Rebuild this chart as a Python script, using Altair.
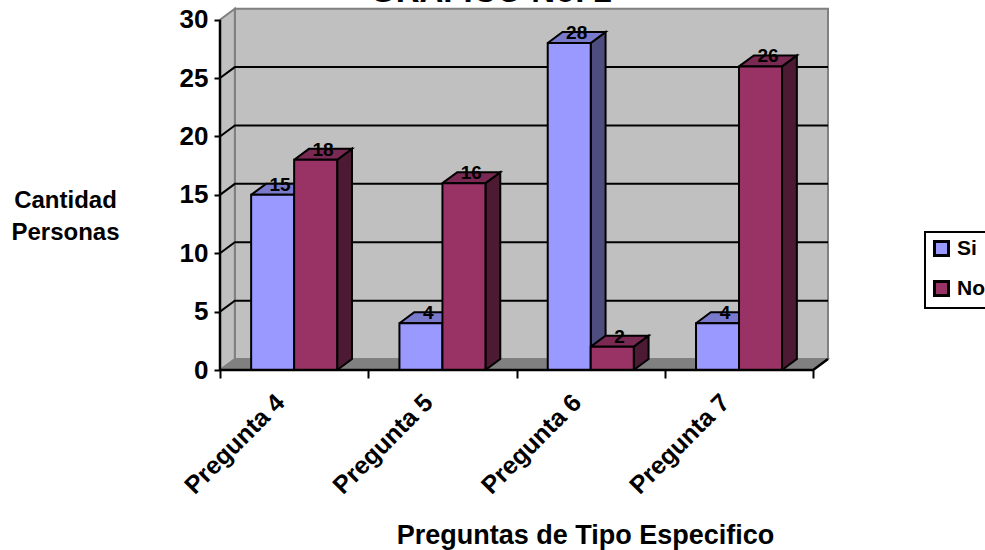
import altair as alt

# Survey answers per question
categories = ["Pregunta 4", "Pregunta 5", "Pregunta 6", "Pregunta 7"]
si_values = [15, 4, 28, 4]
no_values = [18, 16, 2, 26]
gridlines = [5, 10, 15, 20, 25]

series_colors = {"Si": ("#9999FF", "#7A7ACC", "#4D4D80"),
                 "No": ("#993366", "#7A2952", "#4D1A33")}
wall_gray = "#C0C0C0"
edge_gray = "#808080"
font = "Liberation Sans"

# Pseudo-3D projection constants, in axis units
DEPTH_X = 0.1          # horizontal shift of the back plane (categories)
DEPTH_Y = 0.94         # vertical shift of the back plane (persons)
BAR_W = 0.29           # bar width (categories)
BAR_START = 0.21       # gap before the first bar of a category
Y_TOP = 30
N = len(categories)
X_MAX = N + DEPTH_X
Y_MAX = 31

x_scale = alt.Scale(domain=[0, X_MAX], nice=False, zero=False)
y_scale = alt.Scale(domain=[0, Y_MAX], nice=False, zero=False)

label_expr = "[" + ",".join(f"'{c}'" for c in categories) + ",''][datum.value]"
x_axis = alt.Axis(values=list(range(N + 1)), labelExpr=label_expr, domain=False, grid=False,
                  tickColor="black", tickWidth=2, tickSize=8,
                  labelAngle=-45, labelAlign="right", labelBaseline="middle", labelOffset=60,
                  labelFont=font, labelFontWeight="bold", labelFontSize=25, labelColor="black",
                  labelPadding=20, labelOverlap=False, labelFlush=False,
                  title="Preguntas de Tipo Especifico", titleX=365, titleY=173, titleAnchor="middle",
                  titleAlign="center", titleBaseline="alphabetic",
                  titleFont=font, titleFontWeight="bold", titleFontSize=27, titleColor="black")
y_axis = alt.Axis(values=list(range(0, Y_TOP + 1, 5)), domain=False, grid=False,
                  tickColor="black", tickWidth=2, tickSize=6,
                  labelFont=font, labelFontWeight="bold", labelFontSize=26, labelColor="black",
                  labelPadding=6,
                  title=["Cantidad", "Personas"], titleAngle=0, titleX=-155, titleY=199,
                  titleAlign="center", titleBaseline="alphabetic",
                  titleFont=font, titleFontWeight="bold", titleFontSize=24, titleColor="black",
                  titleLineHeight=32)

X = alt.X("x:Q", scale=x_scale, axis=x_axis)
Y = alt.Y("y:Q", scale=y_scale, axis=y_axis)


def polygon(name, pts, color=None):
    """Closed outline rows for a filled line mark."""
    closed = pts + pts[:1]
    return [dict(face=name, i=i, x=x, y=y, color=color) for i, (x, y) in enumerate(closed)]


def face_layer(rows, stroke, width):
    return alt.Chart(alt.Data(values=rows)).mark_line(stroke=stroke, strokeWidth=width, strokeJoin="miter").encode(
        x=X, y=Y, detail="face:N", order=alt.Order("i:Q"), fill=alt.Fill("color:N", scale=None))


fronts, sides, tops, labels = [], [], [], []
for i, cat in enumerate(categories):
    for j, (name, vals) in enumerate((("Si", si_values), ("No", no_values))):
        v = vals[i]
        x0 = i + BAR_START + j * BAR_W
        x1 = x0 + BAR_W
        key = f"{cat}-{name}"
        fronts.append(dict(x=x0, x2=x1, y=0, y2=v, serie=name))
        sides += polygon(key, [(x1, 0), (x1 + DEPTH_X, DEPTH_Y), (x1 + DEPTH_X, v + DEPTH_Y), (x1, v)],
                         series_colors[name][2])
        tops += polygon(key, [(x0, v), (x1, v), (x1 + DEPTH_X, v + DEPTH_Y), (x0 + DEPTH_X, v + DEPTH_Y)],
                        series_colors[name][1])
        labels.append(dict(x=x0 + BAR_W / 2 + DEPTH_X / 2, y=v + DEPTH_Y, t=str(v)))

# Walls and floor
back_wall = face_layer(polygon("back", [(DEPTH_X, DEPTH_Y), (X_MAX, DEPTH_Y), (X_MAX, Y_TOP + DEPTH_Y),
                                        (DEPTH_X, Y_TOP + DEPTH_Y)], wall_gray), edge_gray, 2)
side_wall = face_layer(polygon("left", [(0, 0), (DEPTH_X, DEPTH_Y), (DEPTH_X, Y_TOP + DEPTH_Y), (0, Y_TOP)],
                               wall_gray), edge_gray, 2)
floor = face_layer(polygon("floor", [(0, 0), (X_MAX - DEPTH_X, 0), (X_MAX, DEPTH_Y), (DEPTH_X, DEPTH_Y)],
                           edge_gray), edge_gray, 1.5)

# Gridlines run up the side wall and across the back wall
grid_rows = []
for g in gridlines:
    grid_rows += [dict(g=g, i=0, x=0, y=g), dict(g=g, i=1, x=DEPTH_X, y=g + DEPTH_Y),
                  dict(g=g, i=2, x=X_MAX, y=g + DEPTH_Y)]
grid = alt.Chart(alt.Data(values=grid_rows)).mark_line(color="black", strokeWidth=2).encode(
    x=X, y=Y, detail="g:N", order=alt.Order("i:Q"))

# Bars: side faces first, then tops, then fronts
side_faces = face_layer(sides, "black", 2)
top_faces = face_layer(tops, "black", 2)
front_faces = alt.Chart(alt.Data(values=fronts)).mark_rect(stroke="black", strokeWidth=2).encode(
    x=X, x2=alt.X2("x2:Q"), y=Y, y2=alt.Y2("y2:Q"),
    fill=alt.Fill("serie:N",
                  scale=alt.Scale(domain=["Si", "No"], range=[series_colors["Si"][0], series_colors["No"][0]]),
                  legend=alt.Legend(title=None, orient="none", legendX=705, legendY=224,
                                    padding=6, rowPadding=13, labelFontSize=21, labelFont=font,
                                    labelFontWeight="bold", labelColor="black", symbolType="square",
                                    symbolSize=196, symbolStrokeColor="black", symbolStrokeWidth=3,
                                    symbolOpacity=1, strokeColor="black", labelOffset=5)),
)

value_labels = alt.Chart(alt.Data(values=labels)).mark_text(
    font=font, fontWeight="bold", fontSize=19, color="black", baseline="middle", dy=1).encode(
    x=X, y=Y, text="t:N")

# Axis lines over the floor edge; the baseline bends back along the floor's right side
axis_rows = [dict(a="y", i=0, x=0, y=0), dict(a="y", i=1, x=0, y=Y_TOP),
             dict(a="x", i=0, x=0, y=0), dict(a="x", i=1, x=N, y=0),
             dict(a="x", i=2, x=X_MAX, y=DEPTH_Y)]
axis_lines = alt.Chart(alt.Data(values=axis_rows)).mark_line(color="black", strokeWidth=2.5).encode(
    x=X, y=Y, detail="a:N", order=alt.Order("i:Q"))

# Chart heading sits mostly above the page edge
heading = alt.Chart(alt.Data(values=[dict(t="GRAFICO No. 2")])).mark_text(
    font=font, fontWeight="bold", fontSize=33, color="black", baseline="alphabetic", align="center").encode(
    x=alt.value(271), y=alt.value(-6), text="t:N")

chart = alt.layer(
    back_wall, side_wall, floor, grid,
    side_faces, top_faces, front_faces, axis_lines, value_labels, heading,
).properties(
    width=608, height=362,
    padding={"left": 220, "top": 8, "right": 157, "bottom": 180},
    autosize=alt.AutoSizeParams(type="none"),
    background="white",
).configure_view(stroke=None).configure_legend(
    strokeWidth=2, symbolStrokeColor="black", symbolBaseStrokeColor="black")

chart.save("out.html", embed_options={"renderer": "svg", "actions": False})
